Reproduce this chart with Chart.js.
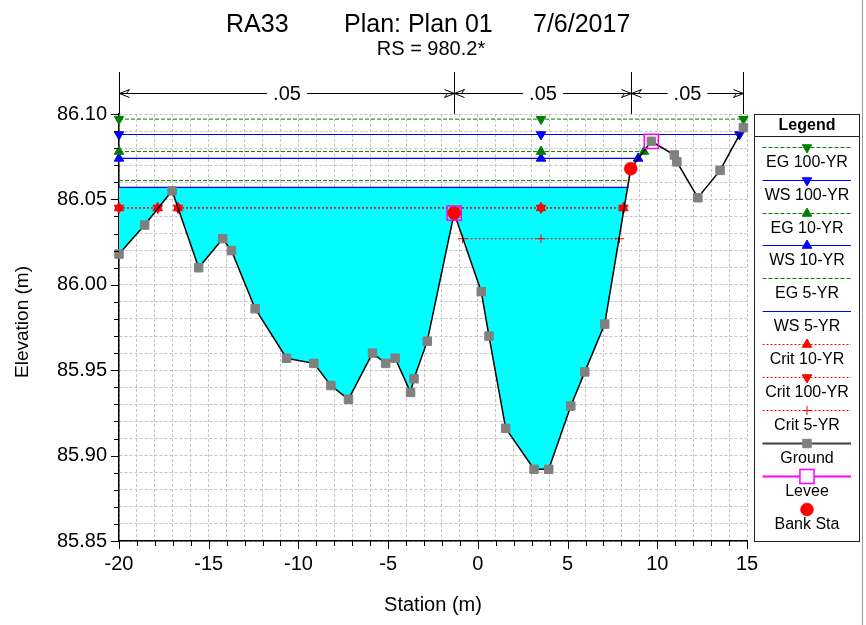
<!DOCTYPE html>
<html>
<head>
<meta charset="utf-8">
<title>RA33 cross section</title>
<script src="https://cdn.jsdelivr.net/npm/chart.js@4.4.1/dist/chart.umd.min.js"></script>
<style>
  html, body { margin: 0; padding: 0; background: #fff; overflow: hidden; }
  #wrap { width: 866px; height: 625px; }
</style>
</head>
<body>
<div id="wrap"><canvas id="xsec" width="866" height="625"></canvas></div>
<script>
// ground survey points (station m, elevation m)
const groundSta = [-20, -18.57, -17.04, -15.56, -14.22, -13.73, -12.41, -10.66, -9.14, -8.19, -7.21,
  -5.87, -5.14, -4.61, -3.75, -3.56, -2.82, -1.32, 0.19, 0.62, 1.55, 3.13, 3.95, 5.18, 5.96, 7.07,
  8.52, 9.67, 10.95, 11.09, 12.26, 13.50, 14.80];
const groundElev = [86.018, 86.035, 86.055, 86.010, 86.027, 86.020, 85.986, 85.957, 85.954, 85.941, 85.933,
  85.960, 85.954, 85.957, 85.937, 85.945, 85.967, 86.042, 85.996, 85.970, 85.916, 85.892, 85.892, 85.929, 85.949, 85.977,
  86.068, 86.084, 86.076, 86.072, 86.051, 86.067, 86.092];

const bankSta = [-1.32, 8.52];
const bankElev = [86.042, 86.068];
const leveeSta = [-1.32, 9.67];
const leveeElev = [86.042, 86.084];

// energy grade / water surface profiles
const wsNames = ['EG 100-YR', 'WS 100-YR', 'EG 10-YR', 'WS 10-YR', 'EG 5-YR', 'WS 5-YR'];
const wsElev = [86.097, 86.088, 86.078, 86.074, 86.061, 86.057];
const wsLeftSta = [-20, -20, -20, -20, -20, -20];
const wsRightSta = [14.80, 14.58, 9.26, 8.93, 8.45, 8.40];
const channelMidSta = 3.52;

// critical depth lines, broken where the ground pokes through
const critNames = ['Crit 10-YR', 'Crit 100-YR', 'Crit 5-YR'];
const critElev = [86.045, 86.045, 86.027];
const critRuns = [
  [[-20, -17.84], [-16.71, 8.11]],
  [[-20, -17.84], [-16.71, 8.11]],
  [[-0.85, 7.89]]
];

// manning's n zones
const nBreakSta = [-20, -1.32, 8.52, 14.80];
const nValues = ['.05', '.05', '.05'];

const xLabelVals = [-20, -15, -10, -5, 0, 5, 10, 15];
const yLabelVals = [85.85, 85.90, 85.95, 86.00, 86.05, 86.10];

const FONT = "'Liberation Sans', Arial, sans-serif";
const GREEN = '#008000', BLUE = '#0000ff', RED = '#ff0000', MAGENTA = '#ff00ff', GRAY = '#808080';

const lineStyle = {
  'EG 100-YR':   {color: GREEN, dash: [4, 2], width: 1, marker: 'triangle', rot: 180},
  'WS 100-YR':   {color: BLUE,  dash: [],     width: 1.2, marker: 'triangle', rot: 180},
  'EG 10-YR':    {color: GREEN, dash: [4, 2], width: 1, marker: 'triangle', rot: 0},
  'WS 10-YR':    {color: BLUE,  dash: [],     width: 1.2, marker: 'triangle', rot: 0},
  'EG 5-YR':     {color: GREEN, dash: [4, 2], width: 1, marker: false},
  'WS 5-YR':     {color: BLUE,  dash: [],     width: 1.2, marker: false},
  'Crit 10-YR':  {color: RED,   dash: [2, 2], width: 1, marker: 'triangle', rot: 0},
  'Crit 100-YR': {color: RED,   dash: [2, 2], width: 1, marker: 'triangle', rot: 180},
  'Crit 5-YR':   {color: RED,   dash: [2, 2], width: 1, marker: 'cross', rot: 0}
};

const pts = (xs, ys) => xs.map((x, i) => ({x: x, y: ys[i]}));

const datasets = [];
datasets.push({
  label: 'Bank Sta', data: pts(bankSta, bankElev), showLine: false, clip: false,
  pointStyle: 'circle', pointRadius: 6.5, pointBackgroundColor: RED, pointBorderColor: RED, pointBorderWidth: 0.5,
  order: 0
});
datasets.push({
  label: 'Levee', data: pts(leveeSta, leveeElev), showLine: false, clip: false,
  pointStyle: 'rect', pointRadius: 10, pointBackgroundColor: 'rgba(0,0,0,0)', pointBorderColor: MAGENTA, pointBorderWidth: 1.5,
  order: 1
});
const groundIdx = datasets.length;
datasets.push({
  label: 'Ground', data: pts(groundSta, groundElev), clip: false,
  borderColor: '#000', borderWidth: 1.5,
  pointStyle: 'rect', pointRadius: 6, pointBackgroundColor: GRAY, pointBorderColor: GRAY, pointBorderWidth: 1,
  order: 2
});

critNames.forEach((name, i) => {
  const st = lineStyle[name];
  critRuns[i].forEach(run => {
    const xs = [run[0]];
    if (run[0] < channelMidSta && channelMidSta < run[1]) xs.push(channelMidSta);
    xs.push(run[1]);
    datasets.push({
      label: name, data: xs.map(x => ({x: x, y: critElev[i]})), clip: false,
      borderColor: st.color, borderWidth: st.width, borderDash: st.dash,
      pointStyle: st.marker, rotation: st.rot, pointRadius: st.marker === 'cross' ? 4.5 : 5.5,
      pointBackgroundColor: st.color, pointBorderColor: st.color, pointBorderWidth: 1,
      order: 3 + i
    });
  });
});

wsNames.forEach((name, i) => {
  const st = lineStyle[name];
  const xs = st.marker ? [wsLeftSta[i], channelMidSta, wsRightSta[i]] : [wsLeftSta[i], wsRightSta[i]];
  const ds = {
    label: name, data: xs.map(x => ({x: x, y: wsElev[i]})), clip: false,
    borderColor: st.color, borderWidth: st.width, borderDash: st.dash,
    pointStyle: st.marker || 'circle', rotation: st.rot || 0, pointRadius: st.marker ? 5.5 : 0,
    pointBackgroundColor: st.color, pointBorderColor: st.color, pointBorderWidth: 1,
    order: 10 + i
  };
  if (name === 'WS 5-YR') {
    ds.fill = groundIdx;
    ds.backgroundColor = '#00ffff';
  }
  datasets.push(ds);
});

const xTickVals = [];
for (let v = -20; v <= 15; v++) xTickVals.push(v);
const yTickVals = [];
for (let k = 0; k <= 25; k++) yTickVals.push(+(85.85 + k * 0.01).toFixed(2));

const markerOpts = (st, r) => ({pointStyle: st.marker, rotation: st.rot || 0, radius: r, borderWidth: 1});

function marker(ctx, opts, x, y) {
  if (Chart.helpers && Chart.helpers.drawPoint) {
    Chart.helpers.drawPoint(ctx, opts, x, y);
  }
}

// titles, tick marks, n-value bars and the legend panel
const decor = {
  id: 'decor',
  afterDraw(chart) {
    const ctx = chart.ctx;
    const a = chart.chartArea;
    const xs = chart.scales.x, ys = chart.scales.y;
    ctx.save();
    ctx.fillStyle = '#000';
    ctx.strokeStyle = '#000';
    ctx.lineWidth = 1;
    ctx.setLineDash([]);

    // tick marks, long on labelled values
    ctx.beginPath();
    xTickVals.forEach(v => {
      const px = Math.round(xs.getPixelForValue(v)) + 0.5;
      const len = xLabelVals.includes(v) ? 8 : 5;
      ctx.moveTo(px, a.bottom);
      ctx.lineTo(px, a.bottom + len);
    });
    yTickVals.forEach(v => {
      const py = Math.round(ys.getPixelForValue(v)) + 0.5;
      const len = yLabelVals.some(l => Math.abs(l - v) < 1e-6) ? 8 : 5;
      ctx.moveTo(a.left - len, py);
      ctx.lineTo(a.left, py);
    });
    ctx.stroke();

    // headings
    ctx.textBaseline = 'alphabetic';
    ctx.textAlign = 'left';
    ctx.font = '25px ' + FONT;
    ctx.fillText('RA33', 226, 32);
    ctx.fillText('Plan: Plan 01', 344, 32);
    ctx.fillText('7/6/2017', 533, 32);
    ctx.textAlign = 'center';
    ctx.font = '20px ' + FONT;
    ctx.fillText('RS = 980.2*', 431, 55);

    ctx.font = '20px ' + FONT;
    ctx.textBaseline = 'middle';
    ctx.fillText('Station (m)', (a.left + a.right) / 2, 605);
    ctx.save();
    ctx.translate(23, 322);
    ctx.rotate(-Math.PI / 2);
    ctx.font = '19px ' + FONT;
    ctx.fillText('Elevation (m)', 0, 0);
    ctx.restore();

    // manning's n dimension bars
    const topY = 72, arrY = 93.5;
    ctx.beginPath();
    nBreakSta.forEach(s => {
      const px = Math.round(xs.getPixelForValue(s)) + 0.5;
      ctx.moveTo(px, topY);
      ctx.lineTo(px, a.top);
    });
    ctx.font = '20px ' + FONT;
    nValues.forEach((n, i) => {
      const x0 = Math.round(xs.getPixelForValue(nBreakSta[i])) + 0.5;
      const x1 = Math.round(xs.getPixelForValue(nBreakSta[i + 1])) + 0.5;
      const mid = (x0 + x1) / 2;
      const gap = ctx.measureText(n).width / 2 + 6;
      ctx.moveTo(x0, arrY); ctx.lineTo(mid - gap, arrY);
      ctx.moveTo(mid + gap, arrY); ctx.lineTo(x1, arrY);
      ctx.moveTo(x0 + 10, arrY - 4); ctx.lineTo(x0, arrY); ctx.lineTo(x0 + 10, arrY + 4);
      ctx.moveTo(x0 + 7, arrY); ctx.lineTo(x0 + 10, arrY - 4);
      ctx.moveTo(x1 - 10, arrY - 4); ctx.lineTo(x1, arrY); ctx.lineTo(x1 - 10, arrY + 4);
      ctx.moveTo(x1 - 7, arrY); ctx.lineTo(x1 - 10, arrY + 4);
      ctx.fillText(n, mid, arrY + 1);
    });
    ctx.stroke();

    // legend panel
    const L = 754.5, R = 859.5, T = 114.5, B = 541.5;
    const cx = (L + R) / 2;
    ctx.strokeStyle = '#222';
    ctx.strokeRect(L, T, R - L, B - T);
    ctx.beginPath();
    ctx.moveTo(L, 136.5); ctx.lineTo(R, 136.5);
    ctx.stroke();
    ctx.font = 'bold 16px ' + FONT;
    ctx.fillStyle = '#000';
    ctx.fillText('Legend', cx, 126);

    const names = wsNames.concat(critNames, ['Ground', 'Levee', 'Bank Sta']);
    names.forEach((name, i) => {
      const ly = Math.round(146.7 + i * 32.9) + 0.5;
      ctx.setLineDash([]);
      if (lineStyle[name]) {
        const st = lineStyle[name];
        ctx.strokeStyle = st.color;
        ctx.fillStyle = st.color;
        ctx.lineWidth = 1;
        ctx.setLineDash(st.dash);
        ctx.beginPath(); ctx.moveTo(762.5, ly); ctx.lineTo(851, ly); ctx.stroke();
        ctx.setLineDash([]);
        if (st.marker) marker(ctx, markerOpts(st, st.marker === 'cross' ? 4.5 : 5.5), cx, ly);
      } else if (name === 'Ground') {
        ctx.strokeStyle = '#404040'; ctx.lineWidth = 2;
        ctx.beginPath(); ctx.moveTo(762.5, ly); ctx.lineTo(851, ly); ctx.stroke();
        ctx.fillStyle = GRAY; ctx.strokeStyle = GRAY; ctx.lineWidth = 1;
        marker(ctx, {pointStyle: 'rect', radius: 6, borderWidth: 1, rotation: 0}, cx, ly);
      } else if (name === 'Levee') {
        ctx.strokeStyle = MAGENTA; ctx.lineWidth = 2;
        ctx.beginPath(); ctx.moveTo(762.5, ly); ctx.lineTo(851, ly); ctx.stroke();
        ctx.fillStyle = '#fff'; ctx.lineWidth = 1.5;
        marker(ctx, {pointStyle: 'rect', radius: 10, borderWidth: 1.5, rotation: 0}, cx, ly);
      } else {
        ctx.fillStyle = RED; ctx.strokeStyle = RED; ctx.lineWidth = 0.5;
        marker(ctx, {pointStyle: 'circle', radius: 6.5, borderWidth: 0.5, rotation: 0}, cx, ly);
      }
      ctx.fillStyle = '#000';
      ctx.font = '16px ' + FONT;
      ctx.fillText(name, cx, ly + 15);
    });

    // frame edge at right
    ctx.strokeStyle = '#9a9a9a';
    ctx.lineWidth = 1;
    ctx.beginPath(); ctx.moveTo(862.5, 0); ctx.lineTo(862.5, 625); ctx.stroke();
    ctx.restore();
  }
};

const axisFont = {size: 20, family: FONT};

new Chart('xsec', {
  type: 'line',
  data: {datasets: datasets},
  options: {
    responsive: false,
    animation: false,
    events: [],
    devicePixelRatio: 1,
    layout: {padding: {top: 114, right: 119, left: 0, bottom: 0}},
    elements: {line: {tension: 0}},
    plugins: {
      legend: {display: false},
      title: {display: false},
      tooltip: {enabled: false}
    },
    scales: {
      x: {
        type: 'linear', min: -20, max: 15,
        afterBuildTicks: s => { s.ticks = xTickVals.map(v => ({value: v})); },
        afterFit: s => { s.height = 84; },
        ticks: {
          autoSkip: false, maxRotation: 0, minRotation: 0, padding: 3, color: '#000', font: axisFont,
          callback: v => xLabelVals.includes(v) ? String(v) : ''
        },
        grid: {color: '#c4c4c4', lineWidth: 1, drawTicks: true, tickLength: 8, tickColor: 'rgba(0,0,0,0)'},
        border: {display: true, color: '#000', width: 1.5, dash: [3, 2]}
      },
      y: {
        type: 'linear', min: 85.85, max: 86.10,
        afterBuildTicks: s => { s.ticks = yTickVals.map(v => ({value: v})); },
        afterFit: s => { s.width = 119; },
        ticks: {
          autoSkip: false, padding: 4, color: '#000', font: axisFont,
          callback: v => yLabelVals.some(l => Math.abs(l - v) < 1e-6) ? v.toFixed(2) : ''
        },
        grid: {color: '#c4c4c4', lineWidth: 1, drawTicks: true, tickLength: 8, tickColor: 'rgba(0,0,0,0)'},
        border: {display: true, color: '#000', width: 1.5, dash: [3, 2]}
      }
    }
  },
  plugins: [decor]
});
</script>
</body>
</html>
